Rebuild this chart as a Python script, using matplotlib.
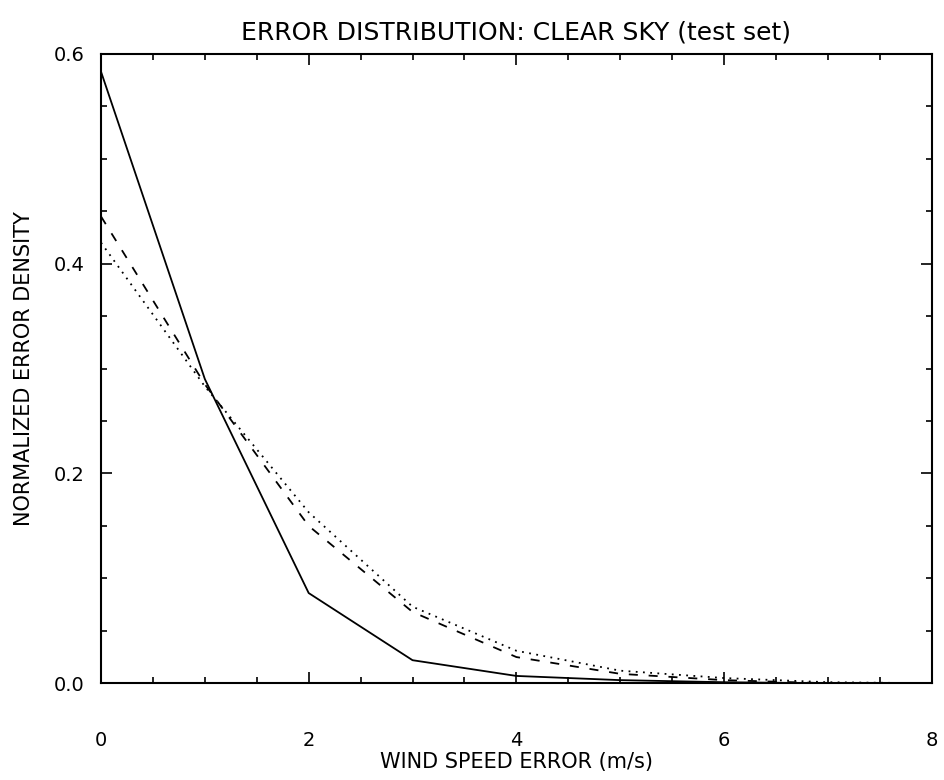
import numpy as np
import matplotlib
matplotlib.use('Agg')
import matplotlib.pyplot as plt
from matplotlib.ticker import MultipleLocator

# wind speed error (m/s)
speed = [0, 1, 2, 3, 4, 5, 6, 7, 8]
# normalized error density, three curves
solid = [0.583, 0.290, 0.086, 0.022, 0.007, 0.003, 0.001, 0.0, 0.0]
dashed = [0.445, 0.285, 0.150, 0.068, 0.025, 0.009, 0.003, 0.0, 0.0]
dotted = [0.420, 0.283, 0.163, 0.073, 0.031, 0.012, 0.005, 0.001, 0.0]

xticks = [0, 2, 4, 6, 8]
yticks = [0.0, 0.2, 0.4, 0.6]

fig = plt.figure(figsize=(9.44, 7.80), dpi=100)
ax = fig.add_axes([0.107, 0.124, 0.880, 0.807])

ax.plot(speed, solid, color='black', lw=1.3, ls='-')
ax.plot(speed, dashed, color='black', lw=1.3, ls=(0, (5, 6)))
ax.plot(speed, dotted, color='black', lw=1.3, ls=(0, (1, 3)))

ax.set_xlim(0, 8)
ax.set_ylim(0, 0.6)
ax.set_xticks(xticks)
ax.set_yticks(yticks)
ax.set_xticklabels([str(t) for t in xticks])
ax.set_yticklabels(['%.1f' % t for t in yticks])
ax.xaxis.set_minor_locator(MultipleLocator(0.5))
ax.yaxis.set_minor_locator(MultipleLocator(0.05))
ax.tick_params(which='both', direction='in', top=True, right=True, width=1.2)
ax.tick_params(which='major', length=8)
ax.tick_params(which='minor', length=4)
ax.tick_params(axis='x', pad=34, labelsize=14)
ax.tick_params(axis='y', pad=12, labelsize=14)
for s in ax.spines.values():
    s.set_linewidth(1.5)

ax.set_title('ERROR DISTRIBUTION: CLEAR SKY (test set)', fontsize=18, pad=10)
ax.set_xlabel('WIND SPEED ERROR (m/s)', fontsize=15, labelpad=2)
ax.set_ylabel('NORMALIZED ERROR DENSITY', fontsize=15, labelpad=14)

fig.savefig('out.png', dpi=100)
